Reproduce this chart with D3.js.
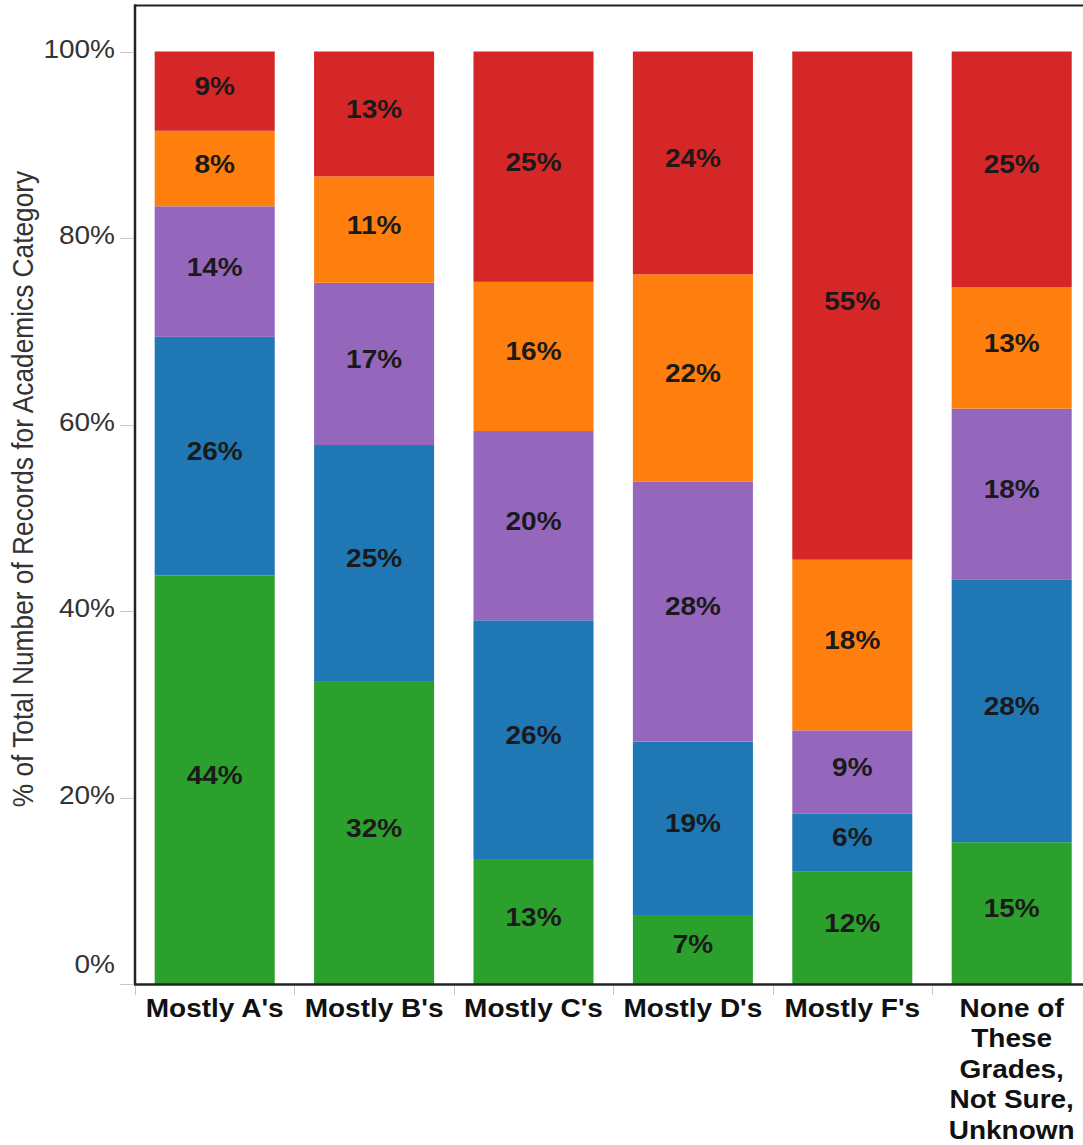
<!DOCTYPE html>
<html>
<head>
<meta charset="utf-8">
<script src="https://cdn.jsdelivr.net/npm/d3@7"></script>
<style>
  html, body { margin: 0; padding: 0; background: #fff; }
  svg { display: block; font-family: "Liberation Sans", Arial, sans-serif; }
</style>
</head>
<body>
<svg id="chart" width="1083" height="1145"></svg>
<script>
// ---- data ----
const categories = ["Mostly A's", "Mostly B's", "Mostly C's", "Mostly D's", "Mostly F's", "None of These Grades, Not Sure, Unknown"];
const seriesNames = ["green", "blue", "purple", "orange", "red"]; // stacked bottom to top
const seriesColors = ["#2ca02c", "#1f77b4", "#9467bd", "#ff7f0e", "#d62728"];
const greenVals  = [43.8, 32.4, 13.4,  7.4, 12.1, 15.2];
const blueVals   = [25.6, 25.4, 25.6, 18.6,  6.2, 28.2];
const purpleVals = [14.0, 17.4, 20.3, 27.9,  8.9, 18.3];
const orangeVals = [ 8.1, 11.4, 16.0, 22.2, 18.3, 13.0];
const redVals    = [ 8.5, 13.4, 24.7, 23.9, 54.5, 25.3];
const yTicks = [0, 20, 40, 60, 80, 100];
const yTitle = "% of Total Number of Records for Academics Category";

const SX = 1.12; // horizontal text stretch seen in the reference

const svg = d3.select("#chart");
const allSeries = [greenVals, blueVals, purpleVals, orangeVals, redVals];

const rows = categories.map((c, i) => {
  const r = { cat: c };
  seriesNames.forEach((s, k) => r[s] = allSeries[k][i]);
  return r;
});
const stack = d3.stack().keys(seriesNames)(rows);

const x = d3.scaleBand().domain(categories).range([135, 135 + 6 * 159.4])
  .paddingInner(0.247).paddingOuter(0.1235);
const y = d3.scaleLinear().domain([0, 100]).range([984, 51.5]);
const color = d3.scaleOrdinal().domain(seriesNames).range(seriesColors);

// bars
const layers = svg.append("g").selectAll("g").data(stack).join("g")
  .attr("fill", d => color(d.key));
layers.selectAll("rect").data(d => d).join("rect")
  .attr("x", d => x(d.data.cat))
  .attr("width", x.bandwidth())
  .attr("y", d => y(d[1]))
  .attr("height", d => y(d[0]) - y(d[1]));

// segment labels
layers.selectAll("g.lab").data(d => d).join("g")
  .attr("class", "lab")
  .attr("transform", d => `translate(${x(d.data.cat) + x.bandwidth() / 2},${(y(d[0]) + y(d[1])) / 2 + 4}) scale(${SX},1)`)
  .append("text")
  .attr("text-anchor", "middle")
  .attr("font-size", 25)
  .attr("font-weight", "bold")
  .attr("fill", "#1a1a1a")
  .text(d => Math.round(d[1] - d[0]) + "%");

// frame
svg.append("line").attr("x1", 134).attr("x2", 1083).attr("y1", 5.5).attr("y2", 5.5)
  .attr("stroke", "#222").attr("stroke-width", 2);
svg.append("line").attr("x1", 135).attr("x2", 135).attr("y1", 4.5).attr("y2", 985)
  .attr("stroke", "#222").attr("stroke-width", 2.5);
svg.append("line").attr("x1", 134).attr("x2", 1083).attr("y1", 984.5).attr("y2", 984.5)
  .attr("stroke", "#222").attr("stroke-width", 2.5);

// y axis ticks and labels
const yg = svg.append("g");
yg.selectAll("line").data(yTicks).join("line")
  .attr("x1", 120).attr("x2", 133)
  .attr("y1", d => Math.round(y(d)) + 0.5).attr("y2", d => Math.round(y(d)) + 0.5)
  .attr("stroke", "#c8c8c8").attr("stroke-width", 1);
yg.selectAll("g").data(yTicks).join("g")
  .attr("transform", d => `translate(115,${d === 0 ? 973 : y(d) + 6}) scale(${SX},1)`)
  .append("text")
  .attr("text-anchor", "end")
  .attr("font-size", 25)
  .attr("fill", "#333")
  .text(d => d + "%");

// y title
svg.append("g")
  .attr("transform", `translate(33,489) rotate(-90) scale(1,${SX})`)
  .append("text")
  .attr("text-anchor", "middle")
  .attr("font-size", 26.3)
  .attr("fill", "#333")
  .text(yTitle);

// x axis tick marks at band boundaries
const edges = categories.map(c => x(c) - x.step() * x.paddingOuter());
svg.append("g").selectAll("line").data(edges).join("line")
  .attr("x1", d => Math.round(d) + 0.5).attr("x2", d => Math.round(d) + 0.5)
  .attr("y1", 986).attr("y2", 995)
  .attr("stroke", "#c8c8c8").attr("stroke-width", 1);

// x labels (wrapped)
const xl = svg.append("g").selectAll("g").data(categories).join("g")
  .attr("transform", c => `translate(${x(c) + x.bandwidth() / 2},1017) scale(${SX},1)`);
xl.each(function (c) {
  const g = d3.select(this);
  const words = c.split(" ");
  const maxW = 150 / SX;
  const t = g.append("text").attr("text-anchor", "middle").attr("font-size", 25)
    .attr("font-weight", "bold").attr("fill", "#111");
  let line = [];
  let lineNo = 0;
  let ts = t.append("tspan").attr("x", 0).attr("y", 0);
  words.forEach(w => {
    line.push(w);
    ts.text(line.join(" "));
    if (ts.node().getComputedTextLength() > maxW && line.length > 1) {
      line.pop();
      ts.text(line.join(" "));
      line = [w];
      lineNo++;
      ts = t.append("tspan").attr("x", 0).attr("y", lineNo * 30.5).text(w);
    }
  });
});
</script>
</body>
</html>
